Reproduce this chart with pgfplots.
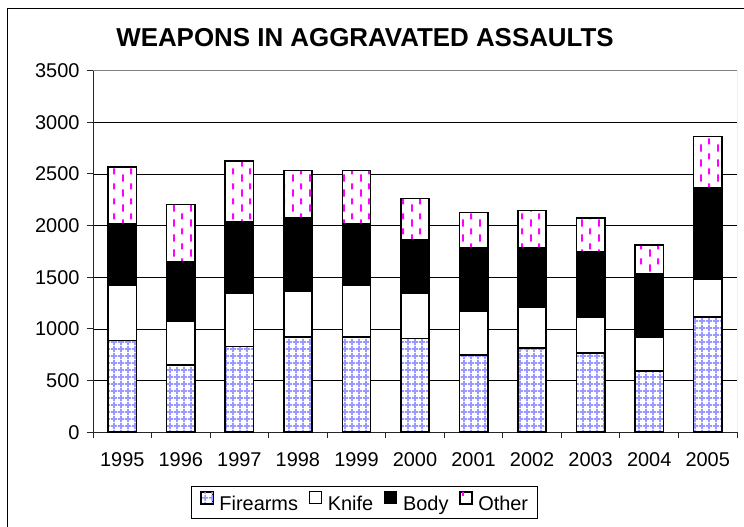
\documentclass[border=0pt]{standalone}
\usepackage{fontspec}
\setmainfont{Liberation Sans}
\usepackage{pgfplots}
\pgfplotsset{compat=1.18}
\usetikzlibrary{patterns.meta}
\definecolor{gridblue}{HTML}{9999FF}
\definecolor{othermag}{HTML}{FF00FF}
\pgfdeclarepattern{
  name=xlgrid, type=uncolored,
  bottom left={\pgfpoint{0bp}{0bp}}, top right={\pgfpoint{6.5bp}{6.5bp}},
  tile size={\pgfpoint{6.5bp}{6.5bp}},
  code={\pgfsetlinewidth{1.7bp}
    \pgfpathmoveto{\pgfpoint{0bp}{3.25bp}}\pgfpathlineto{\pgfpoint{6.5bp}{3.25bp}}
    \pgfpathmoveto{\pgfpoint{3.25bp}{0bp}}\pgfpathlineto{\pgfpoint{3.25bp}{6.5bp}}
    \pgfusepath{stroke}}
}
\pgfdeclarepattern{
  name=vdash, type=uncolored,
  bottom left={\pgfpoint{0bp}{0bp}}, top right={\pgfpoint{17bp}{15bp}},
  tile size={\pgfpoint{17bp}{15bp}},
  code={\pgfsetlinewidth{2bp}
    \pgfpathmoveto{\pgfpoint{4.25bp}{0.5bp}}\pgfpathlineto{\pgfpoint{4.25bp}{8bp}}
    \pgfpathmoveto{\pgfpoint{12.75bp}{8bp}}\pgfpathlineto{\pgfpoint{12.75bp}{14.5bp}}
    \pgfusepath{stroke}}
}
\begin{document}
\begin{tikzpicture}
\useasboundingbox (0,0) rectangle (744bp,527bp);
\draw[black, line width=1bp] (7.5bp,0bp) -- (7.5bp,518bp) -- (744bp,518bp);
\begin{axis}[
  at={(93bp,94.7bp)}, anchor=south west,
  scale only axis, width=644bp, height=361.7bp,
  ybar stacked, bar width=28.3bp,
  xmin=-0.5, xmax=10.5, ymin=0, ymax=3500,
  axis lines*=left,
  axis line style={black!85, line width=1bp},
  ytick={0,500,...,3500},
  ymajorgrids, grid style={black, line width=0.8bp},
  xtick={-0.5,0.5,...,10.5}, xticklabels={},
  extra x ticks={0,...,10},
  extra x tick labels={1995,1996,1997,1998,1999,2000,2001,2002,2003,2004,2005},
  extra x tick style={major tick length=0pt, grid=none, xticklabel style={yshift=-17bp}},
  tick align=outside, major tick length=6bp,
  tick style={black!85, line width=1bp},
  /pgf/number format/assume math mode=true,
  /pgf/number format/1000 sep={},
  tick label style={font=\fontsize{20}{24}\selectfont},
  yticklabel style={xshift=-4bp},
  title={\textbf{WEAPONS IN AGGRAVATED ASSAULTS}},
  title style={at={(0.4224,1)}, anchor=base, yshift=18bp, font=\fontsize{26}{30}\selectfont},
  legend style={at={(0.4214,-0.1485)}, anchor=north, legend columns=-1,
    draw=black, line width=0.8bp, font=\fontsize{20}{24}\selectfont,
    inner xsep=9bp, inner ysep=5bp,
    nodes={inner xsep=0bp, inner ysep=2bp},
    /tikz/every odd column/.append style={column sep=6bp},
    /tikz/every even column/.append style={column sep=11bp}},
  legend image code/.code={\draw[#1, line width=0.8bp] (0bp,0bp) rectangle (12bp,12bp);},
]
\addplot[draw=black, line width=1.6bp, preaction={fill=white}, pattern=xlgrid, pattern color=gridblue] coordinates {
(0,890) (1,651) (2,829) (3,925) (4,925) (5,906) (6,748) (7,813) (8,770) (9,596) (10,1116)};
\addplot[draw=black, line width=1.6bp, fill=white] coordinates {
(0,529) (1,423) (2,516) (3,436) (4,494) (5,439) (6,423) (7,393) (8,343) (9,323) (10,361)};
\addplot[draw=black, line width=1.6bp, fill=black] coordinates {
(0,597) (1,574) (2,690) (3,713) (4,597) (5,516) (6,616) (7,581) (8,632) (9,613) (10,887)};
\addplot[draw=black, line width=1.6bp, preaction={fill=white}, pattern=vdash, pattern color=othermag] coordinates {
(0,554) (1,555) (2,593) (3,458) (4,516) (5,400) (6,338) (7,361) (8,326) (9,283) (10,500)};
\legend{Firearms,Knife,Body,Other}
\draw[black!50, line width=1bp] (rel axis cs:0,1) -- (rel axis cs:1,1) -- (rel axis cs:1,0);
\end{axis}
\end{tikzpicture}
\end{document}
